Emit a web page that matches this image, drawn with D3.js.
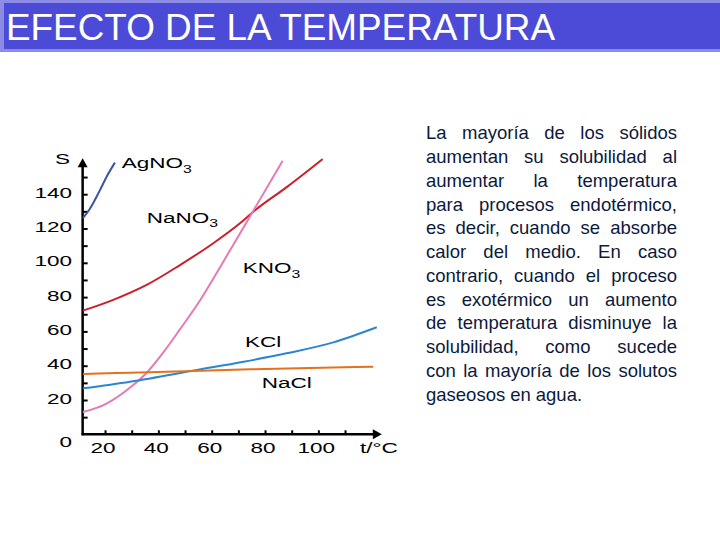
<!DOCTYPE html>
<html>
<head>
<meta charset="utf-8">
<script src="https://cdn.jsdelivr.net/npm/d3@7"></script>
<style>
  body { margin: 0; background: #fff; }
  svg { display: block; font-family: "Liberation Sans", Arial, sans-serif; }
</style>
</head>
<body>
<svg id="chart" width="720" height="540"></svg>
<script>
'use strict';

// solubility curves, [t in °C, S in g/100 g water]
var agno3 = [[11.7, 126], [14.4, 131.7], [18.1, 142.4], [20.6, 150.2], [23.7, 158.4]];
var nano3 = [[11.7, 72.1], [23.1, 78.4], [35.6, 87.1], [48.1, 98.7], [60.6, 111.4], [70.6, 123], [75.6, 129.8], [88, 144], [101.6, 160.5]];
var kno3 = [[11.7, 13], [20, 17.5], [30, 28], [36, 36.5], [42, 48], [48, 61], [55.6, 78], [64.3, 100.5], [75.6, 130.3], [86.6, 159.5]];
var kcl = [[11.7, 26.8], [29.4, 30.7], [54.4, 37.5], [72, 42.3], [88, 47.2], [105.6, 53.6], [121.9, 62.4]];
var nacl = [[11.7, 35.2], [29.4, 35.9], [74.4, 37.9], [120.6, 39.4]];

var yTickLabels = [0, 20, 40, 60, 80, 100, 120, 140];
var xTickLabels = [20, 40, 60, 80, 100];

var titleText = 'EFECTO DE LA TEMPERATURA';
var paragraph = [
    'La mayoría de los sólidos',
    'aumentan su solubilidad al',
    'aumentar la temperatura',
    'para procesos endotérmico,',
    'es decir, cuando se absorbe',
    'calor del medio. En caso',
    'contrario, cuando el proceso',
    'es exotérmico un aumento',
    'de temperatura disminuye la',
    'solubilidad, como sucede',
    'con la mayoría de los solutos',
    'gaseosos en agua.'
];

var series = [
    { name: 'AgNO', sub: '3', data: agno3, color: '#3b55a6', lx: 121.7, ly: 168.3 },
    { name: 'NaNO', sub: '3', data: nano3, color: '#cc1f2c', lx: 146.7, ly: 222.7 },
    { name: 'KNO', sub: '3', data: kno3, color: '#e47ab6', lx: 242.7, ly: 273.3 },
    { name: 'KCl', sub: '', data: kcl, color: '#2b86cf', lx: 245, ly: 347.3 },
    { name: 'NaCl', sub: '', data: nacl, color: '#e5711c', lx: 261.7, ly: 388.3 }
];

var svg = d3.select('#chart');
var stretch = 1.5;   // the chart lettering is a wide, extended sans

// title bar
svg.append('rect').attr('x', 0).attr('y', 0).attr('width', 720).attr('height', 52).attr('fill', '#8c8ce6');
svg.append('rect').attr('x', 4).attr('y', 3).attr('width', 716).attr('height', 46).attr('fill', '#4b4bd7');
svg.append('text')
    .attr('x', 6).attr('y', 40)
    .attr('font-size', 37)
    .attr('fill', '#fff')
    .attr('textLength', 549)
    .attr('lengthAdjust', 'spacingAndGlyphs')
    .text(titleText);

// scales
var x = d3.scaleLinear().domain([0, 120]).range([51.7, 371.7]);
var y = d3.scaleLinear().domain([0, 140]).range([434.3, 194.2]);

var xStart = 11.6, xEnd = 123.8, yEnd = 161;
var g = svg.append('g');

// tick marks only, labels are drawn separately
g.append('g')
    .attr('transform', 'translate(' + x(xStart) + ',0)')
    .call(d3.axisRight(y).tickValues(d3.range(10, 160, 10)).tickSize(5).tickFormat(''))
    .call(function(a) { a.select('.domain').remove(); })
    .selectAll('line').attr('stroke', '#000').attr('stroke-width', 2);

g.append('g')
    .attr('transform', 'translate(0,' + y(0) + ')')
    .call(d3.axisTop(x).tickValues(d3.range(20, 120, 10)).tickSize(4).tickFormat(''))
    .call(function(a) { a.select('.domain').remove(); })
    .selectAll('line').attr('stroke', '#000').attr('stroke-width', 2);

// axis lines with arrow heads
g.append('line')
    .attr('x1', x(xStart)).attr('y1', y(0) + 1)
    .attr('x2', x(xStart)).attr('y2', y(yEnd) + 6)
    .attr('stroke', '#000').attr('stroke-width', 2.5);
g.append('line')
    .attr('x1', x(xStart) - 1).attr('y1', y(0))
    .attr('x2', x(xEnd) - 6).attr('y2', y(0))
    .attr('stroke', '#000').attr('stroke-width', 2.5);
g.append('path')
    .attr('d', 'M' + x(xStart) + ',' + y(yEnd) + 'l-5,9h10z')
    .attr('fill', '#000');
g.append('path')
    .attr('d', 'M' + x(xEnd) + ',' + y(0) + 'l-9,-5v10z')
    .attr('fill', '#000');

// curves
var line = d3.line()
    .x(function(d) { return x(d[0]); })
    .y(function(d) { return y(d[1]); })
    .curve(d3.curveMonotoneX);

g.selectAll('path.curve')
    .data(series)
    .enter().append('path')
        .attr('class', 'curve')
        .attr('d', function(d) { return line(d.data); })
        .attr('fill', 'none')
        .attr('stroke', function(d) { return d.color; })
        .attr('stroke-width', 2);

// wide lettering helper
function wideText(px, py, size, anchor) {
    return g.append('text')
        .attr('transform', 'translate(' + px + ',' + py + ') scale(' + stretch + ',1)')
        .attr('font-size', size)
        .attr('text-anchor', anchor || 'start')
        .attr('fill', '#000');
}

yTickLabels.forEach(function(v) {
    var py = v === 0 ? y(0) + 12.5 : y(v) + 3.5;
    wideText(72, py, 15, 'end').text(v);
});
xTickLabels.forEach(function(v) {
    wideText(x(v) - 2, 453.3, 15, 'middle').text(v);
});

wideText(55, 163.5, 15).text('S');
wideText(360, 453, 15).text('t/°C');

series.forEach(function(s) {
    var t = wideText(s.lx, s.ly, 15);
    t.append('tspan').text(s.name);
    if (s.sub) {
        t.append('tspan').attr('font-size', 10.5).attr('dy', 4.5).text(s.sub);
    }
});

// justified paragraph on the right
var left = 426, right = 677, base = 139.3, lead = 23.76;
var para = svg.append('g')
    .attr('font-size', 18.5)
    .attr('fill', '#0c1a3c');

paragraph.forEach(function(txt, i) {
    var words = txt.split(' ');
    var widths = words.map(function(w) {
        var tmp = para.append('text').text(w);
        var wd = tmp.node().getComputedTextLength();
        tmp.remove();
        return wd;
    });
    var total = d3.sum(widths);
    var last = i === paragraph.length - 1;
    var gap = last ? 5 : (right - left - total) / (words.length - 1);
    var cx = left;
    words.forEach(function(w, j) {
        para.append('text')
            .attr('x', cx)
            .attr('y', base + i * lead)
            .text(w);
        cx += widths[j] + gap;
    });
});
</script>
</body>
</html>
